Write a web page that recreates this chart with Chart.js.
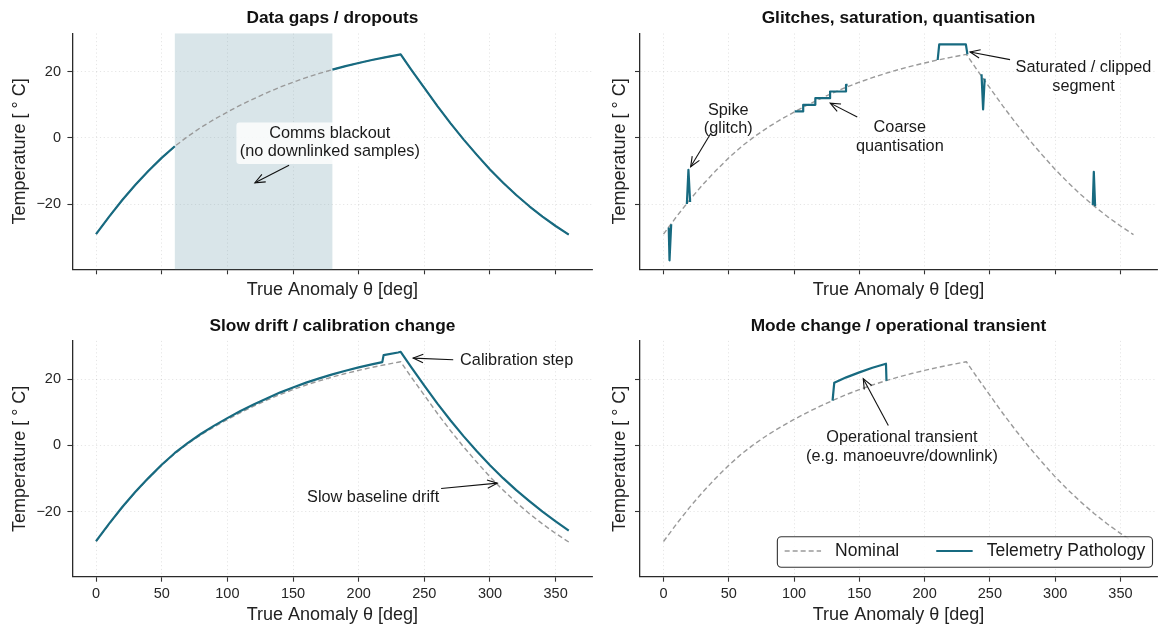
<!DOCTYPE html>
<html><head><meta charset="utf-8">
<script src="https://cdn.jsdelivr.net/npm/chart.js@4/dist/chart.umd.min.js"></script>
<style>
html,body{margin:0;padding:0;background:#fff;overflow:hidden;}
#wrap{position:relative;width:1158px;height:626px;background:#fff;}
canvas{position:absolute;display:block;}
</style></head><body>
<div id="wrap">
<canvas id="c1" width="600" height="309" style="left:0;top:0"></canvas>
<canvas id="c2" width="558" height="309" style="left:600px;top:0"></canvas>
<canvas id="c3" width="600" height="317" style="left:0;top:309px"></canvas>
<canvas id="c4" width="558" height="317" style="left:600px;top:309px"></canvas>
</div>
<script>
// ---------------- data ----------------
const xTicks = [0, 50, 100, 150, 200, 250, 300, 350];
const yTicks = [-20, 0, 20];

const nominalTheta = [0,10,20,30,40,50,60,70,80,90,100,110,120,130,140,150,160,170,180,190,200,210,220,230,232,240,250,260,270,280,290,300,310,320,330,340,350,360];
const nominalTemp  = [-29.0,-23.7,-18.7,-14.1,-9.9,-6.0,-2.5,0.5,3.2,5.6,7.8,9.9,11.8,13.6,15.3,16.8,18.2,19.45,20.6,21.65,22.6,23.5,24.3,25.05,25.2,20.6,15.1,9.6,4.4,-0.5,-5.1,-9.5,-13.5,-17.2,-20.6,-23.7,-26.55,-29.15];

// Panel 1: data gap (blackout 60..180 deg)
const blackout = [60, 180];
const gapTemp = [-29.0,-23.7,-18.7,-14.1,-9.9,-6.0,-2.5,null,null,null,null,null,null,null,null,null,null,null,20.6,21.65,22.6,23.5,24.3,25.05,25.2,20.6,15.1,9.6,4.4,-0.5,-5.1,-9.5,-13.5,-17.2,-20.6,-23.7,-26.55,-29.15];

// Panel 2: spikes + saturation, and coarse quantisation
const glitchTheta = [4.0,4.6,5.9,10,17.9,19.1,20.4,30,210,211.2,231.6,232.8,238,243.6,244.8,246.0,300,328.8,329.6,330.6];
const glitchTemp  = [-27.0,-36.9,-26.0,null,-19.9,-9.6,-19.3,null,23.5,28.2,28.2,25.2,null,19.2,8.6,17.9,null,-20.2,-10.2,-20.6];
const quantTheta = [100.5,107,116.3,127.6,139.8,141];
const quantTemp  = [8,10,12,14,16,16];

// Panel 3: slow drift + calibration step
const driftTheta = [0,10,20,30,40,50,60,70,80,90,100,110,120,130,140,150,160,170,180,190,200,210,218,219,230,232,240,250,260,270,280,290,300,310,320,330,340,350,360];
const driftTemp  = [-28.9,-23.6,-18.6,-14.0,-9.8,-5.85,-2.3,0.75,3.5,5.95,8.2,10.35,12.3,14.15,15.9,17.45,18.9,20.2,21.4,22.5,23.5,24.4,25.1,27.2,28.0,28.2,23.6,18.0,12.6,7.5,2.7,-1.8,-6.0,-9.9,-13.5,-16.8,-20.0,-22.9,-25.7];

// Panel 4: operational transient
const transTheta = [129.5,130.8,140,150,160,170.4,170.8];
const transTemp  = [13.5,18.9,20.5,22.0,23.4,24.6,19.5];

// ---------------- style ----------------
const FAMILY = "'Liberation Sans', Arial, Helvetica, sans-serif";
const TEAL = '#176a80';
const GREY = '#9a9a9a';
const SHADE = 'rgba(120,160,175,0.28)';
Chart.defaults.font.family = FAMILY;
Chart.defaults.color = '#222';

const pts = (xs, ys) => xs.map((x, i) => ({x: x, y: ys[i]}));
const fmt = v => (v < 0 ? '\u2212' + Math.abs(v) : String(v));

function nominalDs() {
  return {label: 'Nominal', data: pts(nominalTheta, nominalTemp), borderColor: GREY, borderWidth: 1.4,
    borderDash: [5, 3], pointRadius: 0, fill: false, order: 5, borderJoinStyle: 'round'};
}
function pathDs(xs, ys, extra) {
  return Object.assign({label: 'Telemetry Pathology', data: pts(xs, ys), borderColor: TEAL, borderWidth: 2.2,
    pointRadius: 0, fill: false, order: 1, spanGaps: false, borderJoinStyle: 'round'}, extra || {});
}

function annot(cfg) {
  return {
    id: 'annot',
    beforeDatasetsDraw(chart) {
      if (!cfg.shade) return;
      const ctx = chart.ctx, a = chart.chartArea, x = chart.scales.x;
      const x0 = x.getPixelForValue(cfg.shade[0]), x1 = x.getPixelForValue(cfg.shade[1]);
      ctx.save();
      ctx.fillStyle = SHADE;
      ctx.fillRect(x0, a.top, x1 - x0, a.bottom - a.top);
      ctx.restore();
    },
    afterDatasetsDraw(chart) {
      const ctx = chart.ctx, x = chart.scales.x, y = chart.scales.y;
      const fs = 16.3, lh = 18.4;
      (cfg.notes || []).forEach(n => {
        ctx.save();
        ctx.font = fs + 'px ' + FAMILY;
        const cx = x.getPixelForValue(n.x), cy = y.getPixelForValue(n.y);
        if (n.box) {
          let w = 0; n.text.forEach(t => { w = Math.max(w, ctx.measureText(t).width); });
          const h = (n.text.length - 1) * lh + fs * 1.1 + 6.6;
          w += 6.6;
          ctx.fillStyle = 'rgba(255,255,255,0.82)';
          ctx.beginPath();
          ctx.roundRect(cx - w / 2, cy - h / 2 + 1.5, w, h - 1.5, 3);
          ctx.fill();
        }
        ctx.fillStyle = '#1a1a1a';
        ctx.textAlign = 'center';
        ctx.textBaseline = 'middle';
        n.text.forEach((t, i) => ctx.fillText(t, cx, cy + (i - (n.text.length - 1) / 2) * lh));
        const tx = x.getPixelForValue(n.tail[0]), ty = y.getPixelForValue(n.tail[1]);
        const hx = x.getPixelForValue(n.tip[0]), hy = y.getPixelForValue(n.tip[1]);
        const ang = Math.atan2(hy - ty, hx - tx), L = 10, W = 4.2;
        ctx.strokeStyle = '#111';
        ctx.lineWidth = 1.1;
        ctx.beginPath(); ctx.moveTo(tx, ty); ctx.lineTo(hx, hy); ctx.stroke();
        ctx.beginPath();
        ctx.moveTo(hx - L * Math.cos(ang) + W * Math.sin(ang), hy - L * Math.sin(ang) - W * Math.cos(ang));
        ctx.lineTo(hx, hy);
        ctx.lineTo(hx - L * Math.cos(ang) - W * Math.sin(ang), hy - L * Math.sin(ang) + W * Math.cos(ang));
        ctx.stroke();
        ctx.restore();
      });
      if (cfg.legend) {
        const a = chart.chartArea;
        const ds = chart.data.datasets;
        const items = [ds.find(d => d.label === 'Nominal'), ds.find(d => d.label === 'Telemetry Pathology')];
        ctx.save();
        ctx.font = '17.5px ' + FAMILY;
        const handle = 36.4, gap = 14, colsp = 37, padX = 7.3, h = 30.6;
        let w = padX * 2;
        items.forEach((d, i) => { w += handle + gap + ctx.measureText(d.label).width + (i ? colsp : 0); });
        const right = a.right - 4.5, bottom = a.bottom - 9.4;
        const left = right - w, top = bottom - h;
        ctx.beginPath();
        ctx.roundRect(left, top, w, h, 4);
        ctx.fillStyle = 'rgba(255,255,255,0.85)';
        ctx.fill();
        ctx.strokeStyle = '#333';
        ctx.lineWidth = 1.1;
        ctx.stroke();
        let xx = left + padX;
        const yy = top + h / 2 - 1;
        items.forEach(d => {
          ctx.strokeStyle = d.borderColor;
          ctx.lineWidth = d.borderWidth;
          ctx.setLineDash(d.borderDash || []);
          ctx.beginPath(); ctx.moveTo(xx, yy); ctx.lineTo(xx + handle, yy); ctx.stroke();
          ctx.setLineDash([]);
          ctx.fillStyle = '#1a1a1a';
          ctx.textAlign = 'left';
          ctx.textBaseline = 'middle';
          ctx.fillText(d.label, xx + handle + gap, yy);
          xx += handle + gap + ctx.measureText(d.label).width + colsp;
        });
        ctx.restore();
      }
    }
  };
}

function makeChart(cfg) {
  const top = cfg.row === 0;
  const left = cfg.col === 0;
  const titlePad = top ? {top: 7.6, bottom: 5.1} : {top: 6.6, bottom: 4.5};
  const xH = top ? 39.7 : 49.3;
  const xTitlePad = top ? 8.2 : 0;
  const yW = left ? 72.4 : 40;
  const rightPad = left ? 7.6 : 1;
  return new Chart(document.getElementById(cfg.id), {
    type: 'line',
    data: {datasets: cfg.datasets},
    options: {
      responsive: false, animation: false,
      layout: {padding: {left: 0, right: rightPad, top: 0, bottom: 0}, autoPadding: false},
      plugins: {
        legend: {display: false}, tooltip: {enabled: false},
        title: {display: true, text: cfg.title, fullSize: false, color: '#111',
          font: {size: 17.3, weight: 'bold'}, padding: titlePad}
      },
      scales: {
        x: {
          type: 'linear', min: -18, max: 378,
          afterBuildTicks: s => { s.ticks = xTicks.map(v => ({value: v})); },
          afterFit: s => { s.height = xH; },
          ticks: {display: !top, font: {size: 14.5}, color: '#262626', padding: 3.5, maxRotation: 0, autoSkip: false},
          grid: {color: 'rgba(0,0,0,0.13)', lineWidth: 0.8, tickColor: '#333', tickLength: 5, tickWidth: 1.1, tickBorderDash: []},
          border: {display: true, color: '#2a2a2a', width: 1.3, dash: [1.2, 2.6]},
          title: {display: true, text: 'True Anomaly θ [deg]', font: {size: 18}, color: '#222', padding: {top: 0, bottom: xTitlePad}}
        },
        y: {
          type: 'linear', min: -39.6, max: 31.5,
          afterBuildTicks: s => { s.ticks = yTicks.map(v => ({value: v})); },
          afterFit: s => { s.width = yW; },
          ticks: {display: left, font: {size: 14.5}, color: '#262626', padding: 6.4, callback: v => fmt(v)},
          grid: {color: 'rgba(0,0,0,0.13)', lineWidth: 0.8, tickColor: '#333', tickLength: 5, tickWidth: 1.1, tickBorderDash: []},
          border: {display: true, color: '#2a2a2a', width: 1.3, dash: [1.2, 2.6]},
          title: {display: true, text: 'Temperature [ ° C]', font: {size: 18}, color: '#222', padding: {top: 9.2, bottom: 0}}
        }
      }
    },
    plugins: [annot(cfg)]
  });
}

makeChart({id: 'c1', row: 0, col: 0, title: 'Data gaps / dropouts',
  datasets: [nominalDs(), pathDs(nominalTheta, gapTemp)],
  shade: blackout,
  notes: [{text: ['Comms blackout', '(no downlinked samples)'], x: 178, y: -1.4, box: true, tail: [147, -8.2], tip: [121, -13.5]}]
});
makeChart({id: 'c2', row: 0, col: 1, title: 'Glitches, saturation, quantisation',
  datasets: [nominalDs(), pathDs(glitchTheta, glitchTemp), pathDs(quantTheta, quantTemp, {stepped: true})],
  notes: [
    {text: ['Spike', '(glitch)'], x: 49.6, y: 5.6, tail: [36.4, 1.5], tip: [20.8, -8.7]},
    {text: ['Coarse', 'quantisation'], x: 181, y: 0.3, tail: [148.4, 6.3], tip: [127.7, 10.5]},
    {text: ['Saturated / clipped', 'segment'], x: 321.7, y: 18.4, tail: [265.4, 23.6], tip: [234.8, 25.9]}
  ]
});
makeChart({id: 'c3', row: 1, col: 0, title: 'Slow drift / calibration change',
  datasets: [nominalDs(), pathDs(driftTheta, driftTemp)],
  notes: [
    {text: ['Calibration step'], x: 320.3, y: 25.6, tail: [272, 25.8], tip: [241.5, 26.3]},
    {text: ['Slow baseline drift'], x: 211, y: -15.7, tail: [262.8, -13.0], tip: [305.6, -11.4]}
  ]
});
makeChart({id: 'c4', row: 1, col: 1, title: 'Mode change / operational transient',
  datasets: [nominalDs(), pathDs(transTheta, transTemp)],
  notes: [{text: ['Operational transient', '(e.g. manoeuvre/downlink)'], x: 182.6, y: -0.5, tail: [172.2, 6.0], tip: [153.0, 20.1]}],
  legend: true
});
</script>
</body></html>
